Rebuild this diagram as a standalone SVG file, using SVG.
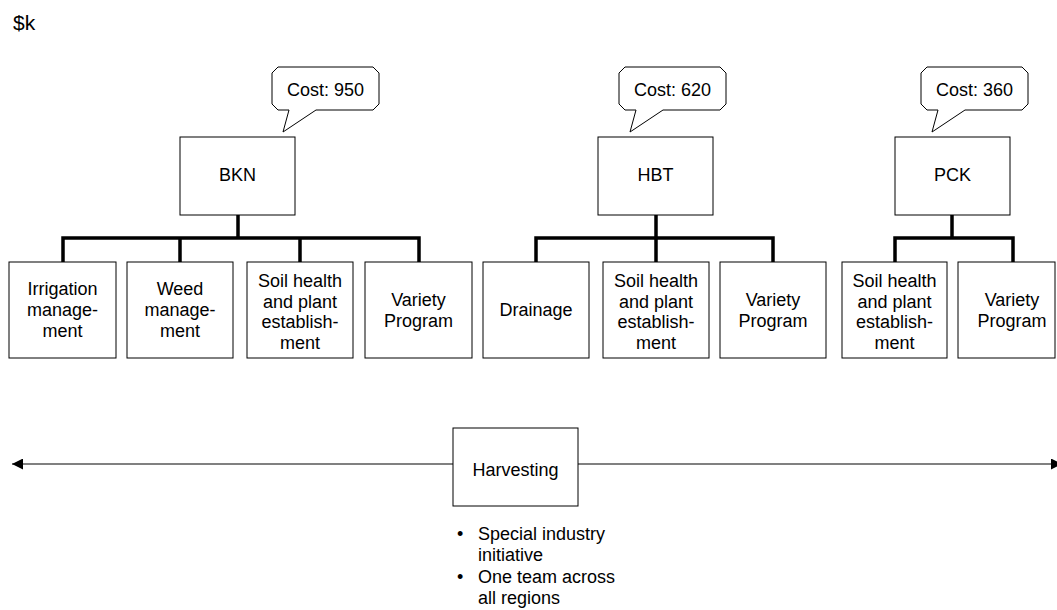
<svg xmlns="http://www.w3.org/2000/svg" xmlns:xlink="http://www.w3.org/1999/xlink" width="1057" height="610" viewBox="0 0 1057 610">
<style>
text{font-family:"Liberation Sans",Arial,sans-serif;font-size:18px;fill:#000}
.c{text-anchor:middle}
.box{fill:#fff;stroke:#000;stroke-width:1}
.tree{fill:none;stroke:#000;stroke-width:3.5;stroke-linejoin:miter;stroke-linecap:butt}
.axis{fill:none;stroke:#808080;stroke-width:2}
</style>
<defs>
<path id="callout" d="M6,0 H101 L107,6 V37 L101,43 H44 L11,65 L17,43 H6 L0,37 V6 Z" fill="#fff" stroke="#000" stroke-width="1"/>
<marker id="arr" markerUnits="userSpaceOnUse" markerWidth="12" markerHeight="11" refX="11" refY="5.5" orient="auto-start-reverse" viewBox="0 0 12 11">
<path d="M0,0 L11,5.5 L0,11 Z" fill="#000"/>
</marker>
</defs>
<rect width="1057" height="610" fill="#fff"/>
<text x="13" y="30" style="font-size:21px">$k</text>
<g id="connectors">
<path class="tree" d="M238,215 V238 M63,262 V238 H419 V262 M180,238 V262 M300,238 V262"/>
<path class="tree" d="M656,215 V238 M536,262 V238 H773 V262 M656,238 V262"/>
<path class="tree" d="M952,215 V238 M895,262 V238 H1013 V262"/>
<path class="axis" d="M12,464 H1062" marker-start="url(#arr)" marker-end="url(#arr)"/>
</g>
<g id="bkn">
<rect class="box" x="180" y="137" width="115" height="78"/>
<text class="c" x="237.5" y="181">BKN</text>
<use xlink:href="#callout" x="272" y="67"/>
<text class="c" x="325.5" y="96">Cost: 950</text>
</g>
<g id="hbt">
<rect class="box" x="598" y="137" width="115" height="78"/>
<text class="c" x="655.5" y="181">HBT</text>
<use xlink:href="#callout" x="619" y="67"/>
<text class="c" x="672.5" y="96">Cost: 620</text>
</g>
<g id="pck">
<rect class="box" x="895" y="137" width="115" height="78"/>
<text class="c" x="952.5" y="181">PCK</text>
<use xlink:href="#callout" x="921" y="67"/>
<text class="c" x="974.5" y="96">Cost: 360</text>
</g>
<g id="bkn-irrigation">
<rect class="box" x="9" y="262" width="107" height="96"/>
<text class="c" x="62.5" y="295">Irrigation</text>
<text class="c" x="62.5" y="316">manage-</text>
<text class="c" x="62.5" y="337">ment</text>
</g>
<g id="bkn-weed">
<rect class="box" x="127" y="262" width="106" height="96"/>
<text class="c" x="180" y="295">Weed</text>
<text class="c" x="180" y="316">manage-</text>
<text class="c" x="180" y="337">ment</text>
</g>
<g id="bkn-soil">
<rect class="box" x="247" y="262" width="106" height="96"/>
<text class="c" x="300" y="287">Soil health</text>
<text class="c" x="300" y="307.5">and plant</text>
<text class="c" x="300" y="328">establish-</text>
<text class="c" x="300" y="348.5">ment</text>
</g>
<g id="bkn-variety">
<rect class="box" x="365" y="262" width="107" height="96"/>
<text class="c" x="418.5" y="305.5">Variety</text>
<text class="c" x="418.5" y="326.5">Program</text>
</g>
<g id="hbt-drainage">
<rect class="box" x="483" y="262" width="106" height="96"/>
<text class="c" x="536" y="316">Drainage</text>
</g>
<g id="hbt-soil">
<rect class="box" x="603" y="262" width="106" height="96"/>
<text class="c" x="656" y="287">Soil health</text>
<text class="c" x="656" y="307.5">and plant</text>
<text class="c" x="656" y="328">establish-</text>
<text class="c" x="656" y="348.5">ment</text>
</g>
<g id="hbt-variety">
<rect class="box" x="720" y="262" width="106" height="96"/>
<text class="c" x="773" y="305.5">Variety</text>
<text class="c" x="773" y="326.5">Program</text>
</g>
<g id="pck-soil">
<rect class="box" x="842" y="262" width="105" height="96"/>
<text class="c" x="894.5" y="287">Soil health</text>
<text class="c" x="894.5" y="307.5">and plant</text>
<text class="c" x="894.5" y="328">establish-</text>
<text class="c" x="894.5" y="348.5">ment</text>
</g>
<g id="pck-variety">
<rect class="box" x="958" y="262" width="97" height="96"/>
<text class="c" x="1012" y="305.5">Variety</text>
<text class="c" x="1012" y="326.5">Program</text>
</g>
<g id="harvesting">
<rect class="box" x="453" y="428" width="125" height="78"/>
<text class="c" x="515.5" y="476">Harvesting</text>
<text x="457" y="540">•</text>
<text x="478" y="540">Special industry</text>
<text x="478" y="561">initiative</text>
<text x="457" y="583">•</text>
<text x="478" y="583">One team across</text>
<text x="478" y="604">all regions</text>
</g>
</svg>
